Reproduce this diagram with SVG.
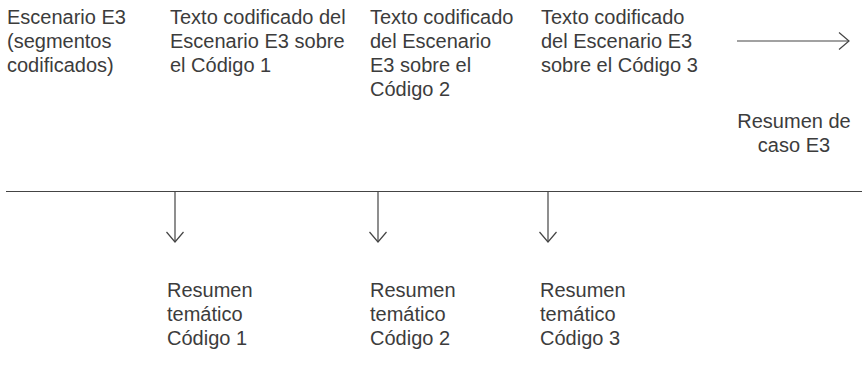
<svg xmlns="http://www.w3.org/2000/svg" width="862" height="384" viewBox="0 0 862 384">
<style>
text{font-family:"Liberation Sans",Arial,sans-serif;font-size:20px;fill:#3c3c3c}
.ln{stroke:#444;stroke-width:1.2;fill:none}
</style>
<defs>
<marker id="ah" viewBox="0 0 12 20" refX="11" refY="10" markerWidth="12" markerHeight="20" markerUnits="userSpaceOnUse" orient="auto">
<path d="M1,1.5 L11,10 L1,18.5" fill="none" stroke="#444" stroke-width="1.2"/>
</marker>
</defs>
<g id="n1"><text x="7" y="24">Escenario E3</text><text x="7" y="48">(segmentos</text><text x="7" y="72">codificados)</text></g>
<g id="n2"><text x="170" y="24">Texto codificado del</text><text x="170" y="48">Escenario E3 sobre</text><text x="170" y="72">el Código 1</text></g>
<g id="n3"><text x="370" y="24">Texto codificado</text><text x="370" y="48">del Escenario</text><text x="370" y="72">E3 sobre el</text><text x="370" y="96">Código 2</text></g>
<g id="n4"><text x="541" y="24">Texto codificado</text><text x="541" y="48">del Escenario E3</text><text x="541" y="72">sobre el Código 3</text></g>
<g id="n5"><text x="794" y="128" text-anchor="middle">Resumen de</text><text x="794" y="152" text-anchor="middle">caso E3</text></g>
<g id="n6"><text x="167" y="297">Resumen</text><text x="167" y="321">temático</text><text x="167" y="345">Código 1</text></g>
<g id="n7"><text x="370" y="297">Resumen</text><text x="370" y="321">temático</text><text x="370" y="345">Código 2</text></g>
<g id="n8"><text x="540" y="297">Resumen</text><text x="540" y="321">temático</text><text x="540" y="345">Código 3</text></g>
<g id="connectors">
<line class="ln" x1="737" y1="41" x2="849" y2="41" marker-end="url(#ah)"/>
<line class="ln" x1="6" y1="191.5" x2="862" y2="191.5"/>
<line class="ln" x1="175" y1="191" x2="175" y2="242" marker-end="url(#ah)"/>
<line class="ln" x1="378" y1="191" x2="378" y2="242" marker-end="url(#ah)"/>
<line class="ln" x1="548" y1="191" x2="548" y2="242" marker-end="url(#ah)"/>
</g>
</svg>
